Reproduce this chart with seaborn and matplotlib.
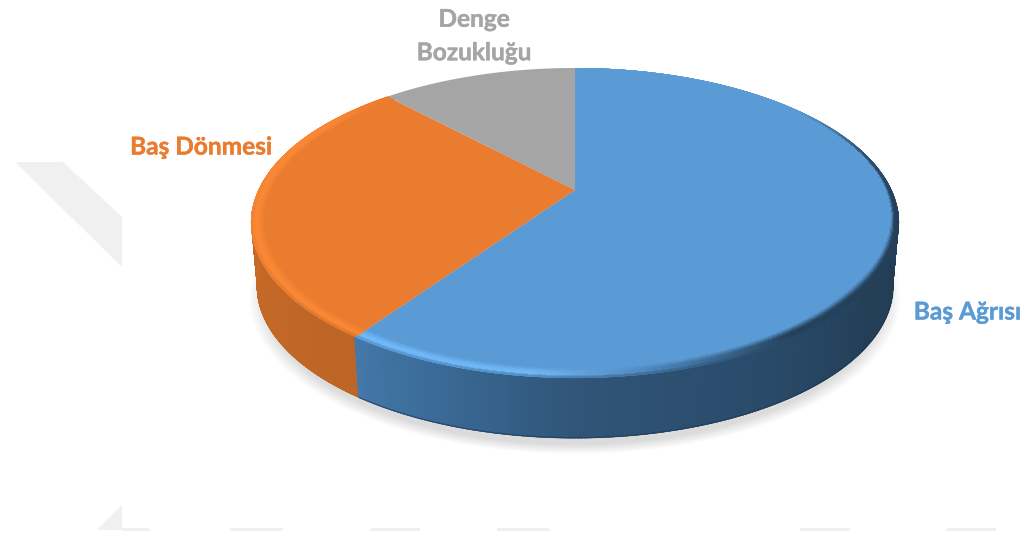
import numpy as np
import pandas as pd
import seaborn as sns
import matplotlib
matplotlib.use("Agg")
import matplotlib.pyplot as plt
import matplotlib.patheffects as pe
from matplotlib.collections import PolyCollection
from matplotlib.colors import to_rgb
from matplotlib.patches import Polygon

# Chart values
categories = ["Baş Ağrısı", "Baş Dönmesi", "Denge\nBozukluğu"]
shares = [59.7, 28.3, 12.0]
slice_colors = ["#5B9BD5", "#EA7C2F", "#A5A5A5"]

sns.set_theme(style="white")
plt.rcParams["font.family"] = ["Lato", "DejaVu Sans"]

table = pd.DataFrame({"category": categories, "share": shares})
table["sweep"] = 360 * table["share"] / table["share"].sum()
table["end"] = table["sweep"].cumsum()
table["start"] = table["end"] - table["sweep"]
palette = sns.color_palette(slice_colors)

# Disc geometry in figure pixels, with a mild perspective
CX, TOP_CY = 575.0, 190.0
A, B, K = 148.0, 316.6, 0.213
BOTTOM_CY, BOTTOM_SCALE = 253.6, 0.982
WIDEST = 102.0  # rim angle where the disc is widest on screen


def project(theta_deg, r=1.0, cy=TOP_CY, scale=1.0):
    """Disc position to screen; theta runs clockwise from twelve o'clock."""
    t = np.radians(theta_deg)
    u, v = r * np.sin(t), r * np.cos(t)
    w = 1 + K * v
    return CX + scale * B * u / w, cy - scale * A * v / w


def ramp(theta, stops):
    """Piecewise colour along the rim, given (angle, colour) stops."""
    angles = [s[0] for s in stops]
    rgb = np.array([to_rgb(s[1]) for s in stops])
    return np.array([np.interp(theta, angles, rgb[:, i]) for i in range(3)]).T


fig = plt.figure(figsize=(10.25, 5.34), dpi=100, facecolor="white")
ax = fig.add_axes([0, 0, 1, 1])
ax.set_xlim(0, 1025)
ax.set_ylim(534, 0)
ax.axis("off")

# Faint backdrop chevrons
backdrop = "#F0F0F0"
ax.fill([15, 63, 122, 122], [162, 162, 217, 267], color=backdrop, lw=0, zorder=0)
ax.fill([97, 122, 122], [530, 505, 530], color=backdrop, lw=0, zorder=0)
for x0, x1 in [(122, 150), (230, 283), (370, 420), (497, 550), (800, 850), (946, 996)]:
    ax.fill([x0, x1, x1, x0], [528, 528, 531, 531], color=backdrop, lw=0, zorder=0)

# Soft cast shadow under the disc
ring = np.linspace(0, 360, 361)
layers = np.linspace(1.005, 0.955, 18)
for s in layers:
    sx, sy = project(ring, cy=265, scale=s)
    ax.fill(sx, sy, color="black", alpha=0.12 / len(layers), lw=0, zorder=1)

# Outer silhouette of the whole drum, used to clip the wall shading
back_th = np.linspace(-WIDEST, WIDEST, 400)
front_th = np.linspace(WIDEST, 360 - WIDEST, 400)
silhouette = np.r_[np.c_[project(back_th)],
                   np.c_[project(front_th, cy=BOTTOM_CY, scale=BOTTOM_SCALE)]]

# Side wall, shaded slice by slice; only the part facing the viewer is drawn
side_stops = {
    0: [(0, "#223C52"), (90, "#223C52"), (125, "#233F57"), (150, "#294A69"),
        (180, "#305578"), (200, "#3A6A96"), (216, "#4579AA")],
    1: [(214, "#BD6526"), (250, "#C46827"), (285, "#CC6D29"), (317, "#D9752D")],
}
for i, stops in side_stops.items():
    row = table.iloc[i]
    th = np.arange(row["start"], row["end"] + 0.5, 0.5)
    th[-1] = row["end"]
    th = th[(th >= WIDEST - 6) & (th <= 360 - WIDEST + 6)]
    tx, ty = project(th)
    bx, by = project(th, cy=BOTTOM_CY, scale=BOTTOM_SCALE)
    quads = np.stack([np.c_[tx[:-1], ty[:-1]], np.c_[tx[1:], ty[1:]],
                      np.c_[bx[1:], by[1:]], np.c_[bx[:-1], by[:-1]]], axis=1)
    cols = ramp(th[:-1], stops)
    wall = PolyCollection(quads, facecolors=cols, edgecolors=cols, linewidths=1.0,
                          antialiaseds=False, zorder=2 + 0.1 * (i == 0))
    ax.add_collection(wall)
    wall.set_clip_path(Polygon(silhouette, closed=True, transform=ax.transData))

# Darker lower lip of the wall on the blue slice
lip = np.linspace(table.loc[0, "start"] + 60, table.loc[0, "end"], 300)
ax.plot(*project(lip, cy=BOTTOM_CY - 0.5, scale=BOTTOM_SCALE), color="#1C3550",
        lw=1.0, alpha=0.55, zorder=2.5)

# Flat top of each slice
for i, row in table.iterrows():
    th = np.linspace(row["start"], row["end"], 500)
    rx, ry = project(th)
    ax.fill(np.r_[CX, rx], np.r_[TOP_CY, ry], color=palette[i], lw=0, zorder=3)

# Bevelled rim: each slice blends from its top colour to a rim colour
rim_stops = {
    0: [(0, "#5B9BD5"), (52, "#5B9BD5"), (76, "#30506E"), (95, "#24405A"),
        (145, "#24405A"), (168, "#4B82B5"), (186, "#6FB6F5"), (216, "#6FB8F8")],
    1: [(214, "#FA8734"), (298, "#FA8734"), (317, "#EA7C2F")],
}
R0 = 0.958
radii = np.linspace(R0, 1.0, 13)
for i, stops in rim_stops.items():
    row = table.iloc[i]
    th = np.arange(row["start"], row["end"] + 0.5, 0.5)
    th[-1] = row["end"]
    mids = 0.5 * (th[:-1] + th[1:])
    target = ramp(mids, stops)
    wall_col = ramp(mids, side_stops[i])
    base = np.array(palette[i])
    # On the right-hand part of the disc the dark fringe hugs the edge
    inset = np.interp(mids, [30, 60, 85, 110, 130], [0.9, 0.85, 0.7, 0.3, 0.0])
    rim_th = np.r_[th, th[::-1]]
    rim_r = np.r_[np.full(th.size, R0), np.full(th.size, 1.0)]
    for r0, r1 in zip(radii[:-1], radii[1:]):
        x0a, y0a = project(th[:-1], r0)
        x0b, y0b = project(th[1:], r0)
        x1b, y1b = project(th[1:], r1)
        x1a, y1a = project(th[:-1], r1)
        quads = np.stack([np.c_[x0a, y0a], np.c_[x0b, y0b], np.c_[x1b, y1b], np.c_[x1a, y1a]], axis=1)
        t = (0.5 * (r0 + r1) - R0) / (1 - R0)
        f = np.clip((t - inset) / (1 - inset) * 1.5, 0, 1)
        f = f * f * (3 - 2 * f)
        cols = base + (target - base) * f[:, None]
        # The last sliver melts into the wall below, on the viewer-facing part only
        g = np.clip((t - 0.8) / 0.2, 0, 1) * 0.55 * np.interp(mids, [215, 290], [1, 0])
        g = g * np.interp(mids, [100, 130], [0, 1])
        cols = cols + (wall_col - cols) * g[:, None]
        band = PolyCollection(quads, facecolors=cols, edgecolors=cols, linewidths=0.8,
                              antialiaseds=False, zorder=4)
        ax.add_collection(band)
        band.set_clip_path(Polygon(np.c_[project(rim_th, rim_r)], closed=True,
                                   transform=ax.transData))

# Category labels
label_anchor = [(967.5, 312), (201, 147), (474, 36)]
for i, (name, (lx, ly)) in enumerate(zip(table["category"], label_anchor)):
    ax.text(lx, ly, name, color=palette[i], fontsize=17.6, fontweight="bold",
            ha="center", va="center", linespacing=1.55, zorder=5,
            path_effects=[pe.withStroke(linewidth=0.3, foreground=palette[i])])

fig.savefig("out.png", dpi=100, facecolor="white")
